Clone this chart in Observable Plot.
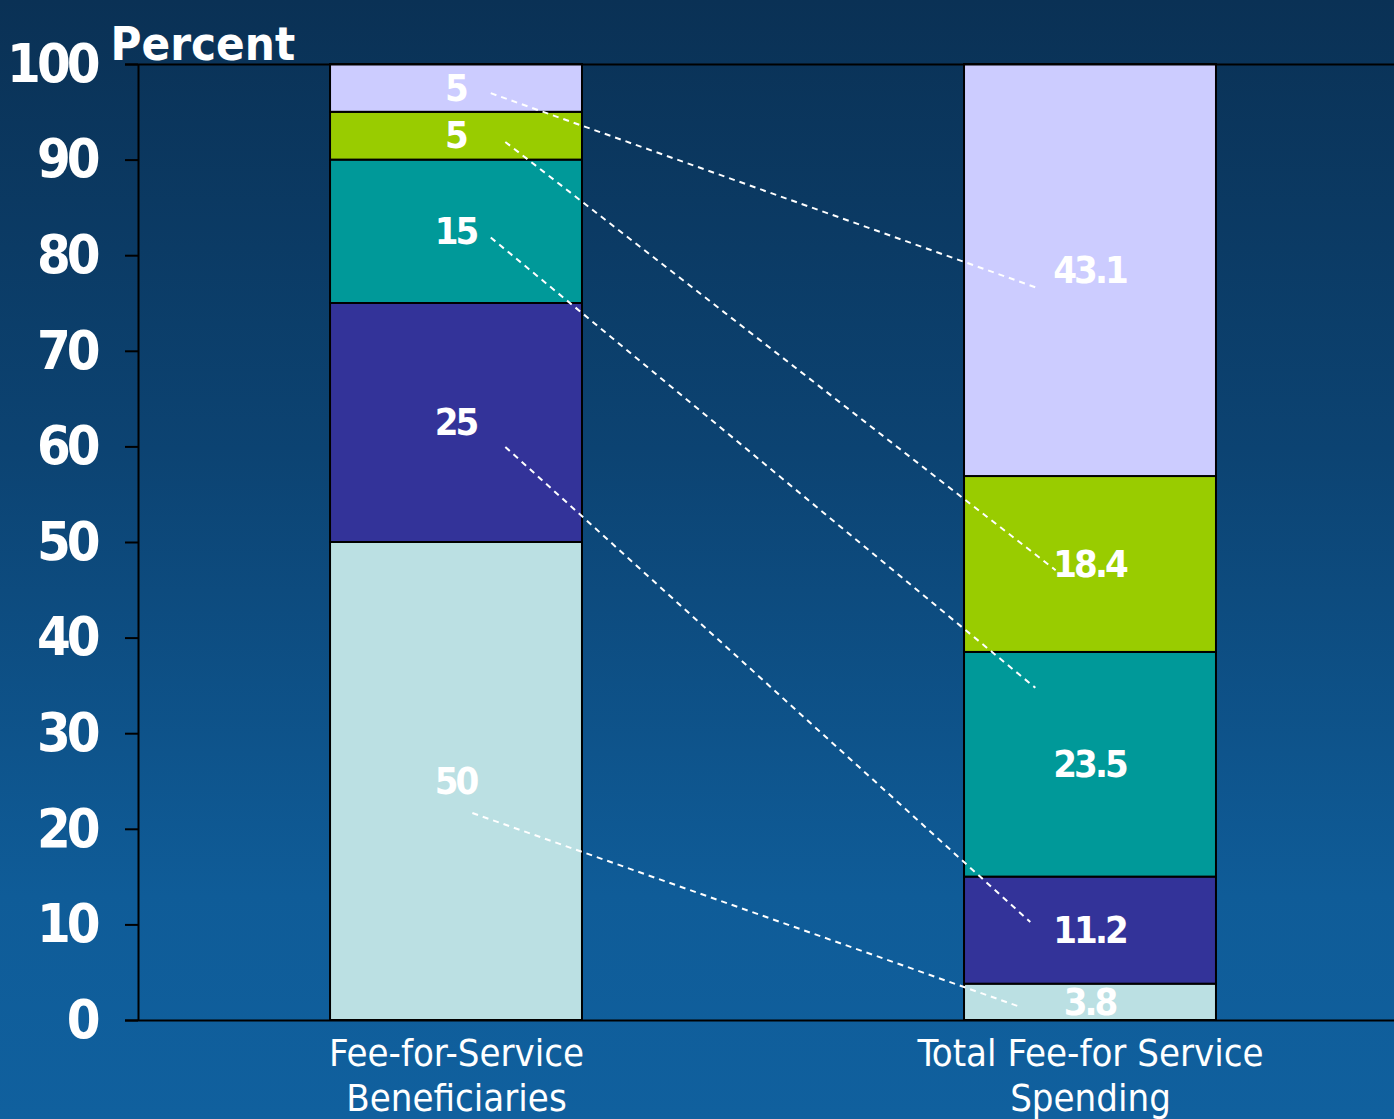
<!DOCTYPE html>
<html>
<head>
<meta charset="utf-8">
<script src="https://cdn.jsdelivr.net/npm/d3@7"></script>
<script src="https://cdn.jsdelivr.net/npm/@observablehq/plot@0.6"></script>
<style>
  html, body { margin: 0; padding: 0; }
  body {
    width: 1394px; height: 1119px; overflow: hidden;
    background: linear-gradient(to bottom, #0a3155 0%, #0c4372 40%, #0f5c98 80%, #10609e 100%);
  }
  #chart svg { display: block; }
  .ytick text { letter-spacing: -4px; }
  .vlabel text { letter-spacing: -3px; }
</style>
</head>
<body>
<div id="chart"></div>
<script>
// ---- data ----
const categories = ["Fee-for-Service\nBeneficiaries", "Total Fee-for Service\nSpending"];
const segments = ["s1", "s2", "s3", "s4", "s5"]; // bottom to top
const beneficiaries = [50, 25, 15, 5, 5];
const spending = [3.8, 11.2, 23.5, 18.4, 43.1];
const segmentColors = ["#bbe0e3", "#333399", "#009999", "#99cc00", "#ccccff"];
const yTicks = [0, 10, 20, 30, 40, 50, 60, 70, 80, 90, 100];
// dashed connector annotation (value-space ends, per segment)
const connectorFrom = [21.7, 60.0, 81.9, 91.9, 97.0];
const connectorTo = [1.4, 10.3, 34.8, 47.1, 76.7];

// ---- build table ----
const series = [beneficiaries, spending];
const rows = [];
series.forEach((vals, i) => {
  let acc = 0;
  vals.forEach((v, j) => {
    rows.push({i, seg: segments[j], value: v, y1: acc, y2: acc + v, mid: acc + v / 2});
    acc += v;
  });
});
const links = segments.map((s, j) => ({from: connectorFrom[j], to: connectorTo[j], j}));

const hw = 0.1987;                 // half bar width in x units
const xDomain = [-0.5016, 1.4795];
const fromDx = [0.025, 0.077, 0.054, 0.077, 0.054];
const toDx = [-0.11, -0.095, -0.087, -0.055, -0.087];

const condensed = "'DejaVu Sans Condensed', 'DejaVu Sans', sans-serif";

const chart = Plot.plot({
  width: 1394,
  height: 1119,
  marginTop: 64,
  marginBottom: 99,
  marginLeft: 138,
  marginRight: 0,
  style: {background: "transparent", color: "white", fontFamily: condensed, overflow: "visible"},
  x: {domain: xDomain, axis: null},
  y: {domain: [0, 100], axis: null},
  color: {domain: segments, range: segmentColors},
  marks: [
    Plot.rectY(rows, {
      x1: d => d.i - hw, x2: d => d.i + hw, y1: "y1", y2: "y2",
      fill: "seg", stroke: "black", strokeWidth: 2
    }),
    Plot.link(links, {
      x1: d => fromDx[d.j], x2: d => 1 + toDx[d.j],
      y1: "from", y2: "to",
      stroke: "white", strokeWidth: 2, strokeDasharray: "6,5"
    }),
    Plot.text(rows, {
      x: "i", y: "mid", text: d => String(d.value), dx: -1,
      fill: "white", fontSize: 38, fontWeight: "bold", className: "vlabel"
    }),
    Plot.ruleX([xDomain[0]], {y1: 0, y2: 100, stroke: "black", strokeWidth: 2}),
    Plot.ruleY([0, 100], {stroke: "black", strokeWidth: 2, insetLeft: -13}),
    Plot.axisY({
      ticks: yTicks, tickSize: 13, tickPadding: 29, tickFormat: d => String(d),
      stroke: "black", strokeWidth: 2, strokeOpacity: 1,
      fill: "white", fontSize: 54, fontWeight: "bold", className: "ytick"
    }),
    Plot.text(categories, {
      x: (d, k) => k, y: 0, text: d => d, dy: 14, lineAnchor: "top",
      lineHeight: 1.18, fill: "white", fontSize: 38
    }),
    Plot.text(["Percent"], {
      frameAnchor: "top-left", dx: -28, dy: -38, textAnchor: "start",
      fill: "white", fontSize: 47, fontWeight: "bold"
    })
  ]
});
document.getElementById("chart").appendChild(chart);
</script>
</body>
</html>
